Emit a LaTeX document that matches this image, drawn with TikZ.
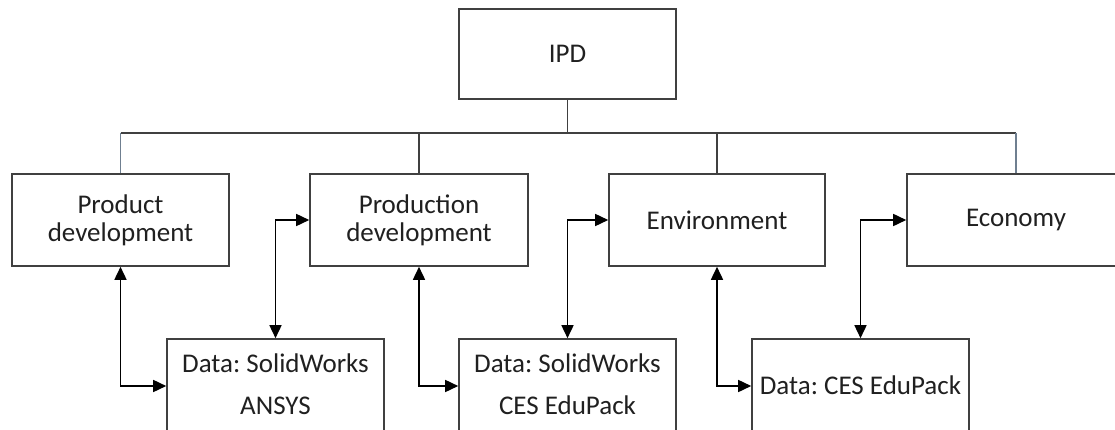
\documentclass[tikz,border=0pt]{standalone}
\usepackage{fontspec}
\setmainfont{Carlito}
\usetikzlibrary{arrows.meta}
\frenchspacing
\definecolor{boxline}{HTML}{404040}
\definecolor{txt}{HTML}{202020}
\definecolor{slate}{HTML}{6F7F90}
\tikzset{
  box/.style={draw=boxline, line width=1.6pt, minimum width=217pt, minimum height=92pt, inner sep=0pt, align=center, text=txt, font=\fontsize{27}{28}\selectfont},
  lowbox/.style={draw=boxline, line width=1.6pt, minimum width=217pt, minimum height=94pt, inner sep=0pt},
  lowtext/.style={align=center, text=txt, font=\fontsize{27}{42}\selectfont, inner sep=0pt},
  tree/.style={draw=boxline, line width=1.6pt},
  slatestem/.style={draw=slate, line width=1.6pt},
  link/.style={draw=black, line width=1.6pt, {Triangle[length=13pt,width=12pt]}-{Triangle[length=13pt,width=12pt]}}
}
\begin{document}
\begin{tikzpicture}[x=1pt, y=-1pt]
\clip (0,0) rectangle (1115,430);
\fill[white] (0,0) rectangle (1115,430);
\node[box, minimum height=90pt] (ipd) at (567.5,54) {IPD};
\node[box] (b1) at (120.5,220) {Product\\development};
\node[box, minimum width=218pt] (b2) at (419,220) {Production\\development};
\node[box, minimum width=216pt] (b3) at (717,220) {Environment};
\node[box, minimum width=218pt] (b4) at (1016,220) {Economy};
\node[lowbox] (bA) at (275.5,386) {};
\node[lowbox] (bB) at (567.5,386) {};
\node[lowbox] (bC) at (860.5,386) {};
\node[lowtext] (tA) at (275.5,384) {Data: SolidWorks\\ANSYS};
\node[lowtext] (tB) at (567.5,384) {Data: SolidWorks\\CES EduPack};
\node[lowtext] (tC) at (860.5,385) {Data: CES EduPack};
\coordinate (bus) at (567.5,133);
\draw[tree] (ipd.south) -- (bus);
\draw[tree] (b1.north |- bus) -- (b4.north |- bus);
\draw[slatestem] (b1.north |- bus) -- (b1.north);
\draw[slatestem] (b4.north |- bus) -- (b4.north);
\draw[tree] (b2.north |- bus) -- (b2.north);
\draw[tree] (b3.north |- bus) -- (b3.north);
\draw[link] (b1.south) |- (bA.west);
\draw[link] (b2.west) -| (bA.north);
\draw[link] (b2.south) |- (bB.west);
\draw[link] (b3.west) -| (bB.north);
\draw[link] (b3.south) |- (bC.west);
\draw[link] (b4.west) -| (bC.north);
\end{tikzpicture}
\end{document}
